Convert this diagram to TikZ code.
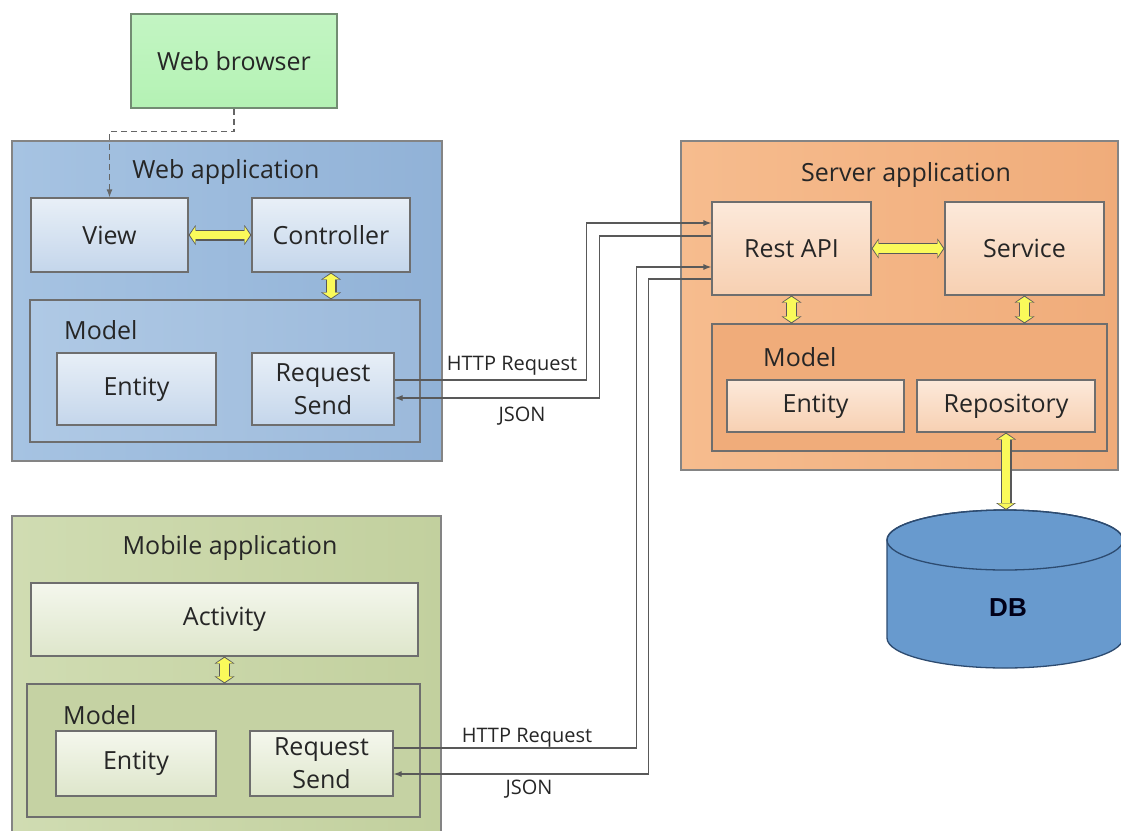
\documentclass[tikz,border=0pt]{standalone}
\usepackage{fontspec}
\setmainfont{Open Sans}
\newfontfamily\dbfont{Liberation Sans}
\usepackage{tikz}
\usetikzlibrary{positioning,calc,arrows.meta,shapes.geometric}

\definecolor{browserfill}{RGB}{180,242,180}
\definecolor{weboutA}{RGB}{166,195,226}
\definecolor{weboutB}{RGB}{145,178,215}
\definecolor{webinA}{RGB}{232,239,247}
\definecolor{webinB}{RGB}{196,214,235}
\definecolor{srvoutA}{RGB}{246,188,142}
\definecolor{srvoutB}{RGB}{240,172,122}
\definecolor{srvinA}{RGB}{252,233,218}
\definecolor{srvinB}{RGB}{247,208,178}
\definecolor{mobA}{RGB}{208,220,178}
\definecolor{mobB}{RGB}{194,208,158}
\definecolor{mobinA}{RGB}{244,247,237}
\definecolor{mobinB}{RGB}{222,230,203}
\definecolor{dbfill}{RGB}{104,154,206}
\definecolor{dbline}{RGB}{45,75,112}
\definecolor{arrowyellow}{RGB}{250,250,90}
\definecolor{edgegray}{RGB}{110,110,110}

\newcommand\boxfont{\fontsize{25}{33}\selectfont}
\newcommand\msgfont{\fontsize{20}{24}\selectfont}

\begin{document}
\begin{tikzpicture}[x=1pt, y=-1pt,
    every node/.style={text=black!85},
    outerbox/.style={draw=edgegray!85, line width=1.2pt, inner sep=0pt},
    innerbox/.style={draw=edgegray, line width=1.2pt, inner sep=0pt, align=center, font=\boxfont},
    title/.style={font=\boxfont, inner sep=0pt},
    browser/.style={innerbox, top color=browserfill!80!white, bottom color=browserfill,
        draw=gray!90!green},
    webout/.style={outerbox, left color=weboutA, right color=weboutB},
    webin/.style={innerbox, top color=webinA, bottom color=webinB},
    webmodel/.style={innerbox, left color=weboutA!90!white, right color=weboutB!90!white},
    srvout/.style={outerbox, left color=srvoutA, right color=srvoutB},
    srvin/.style={innerbox, top color=srvinA, bottom color=srvinB},
    srvmodel/.style={innerbox, fill=srvoutB},
    mobout/.style={outerbox, left color=mobA, right color=mobB},
    mobin/.style={innerbox, top color=mobinA, bottom color=mobinB},
    mobmodel/.style={innerbox, fill=mobB!95!white},
    yarr/.style={line width=11pt, draw=gray!70!black,
        {Triangle[length=7pt,width=20pt,line width=0pt]}-{Triangle[length=7pt,width=20pt,line width=0pt]},
        postaction={draw=arrowyellow, line width=8.6pt,
          arrows={Triangle[length=5.5pt,width=16.5pt,line width=0pt]-Triangle[length=5.5pt,width=16.5pt,line width=0pt]},
          shorten <=1.2pt, shorten >=1.2pt}},
    msg/.style={draw=black!65, line width=1.2pt, -{Latex[length=8pt,width=6pt]}},
    hint/.style={draw=black!60, line width=1.2pt, dash pattern=on 6pt off 4pt,
        -{Latex[length=8pt,width=6pt]}},
    msglabel/.style={font=\msgfont, inner sep=0pt}
  ]
\useasboundingbox (0,0) rectangle (1121,830);

% browser
\node[browser, minimum width=206pt, minimum height=94pt] (browser) at (234,61) {Web browser};

% web application
\node[webout, minimum width=430pt, minimum height=320pt] (webapp) at (227,301) {};
\node[title] (webtitle) at (226,172) {Web application};
\node[webin, minimum width=157pt, minimum height=74pt] (view) at (109.5,235) {View};
\node[webin, minimum width=158pt, minimum height=74pt] (ctrl) at (331,235) {Controller};
\node[webmodel, minimum width=390pt, minimum height=142pt] (wmodel) at (225,371) {};
\node[title, anchor=west] (wmodeltitle) at (64,330) {Model};
\node[webin, minimum width=159pt, minimum height=72pt] (went) at (136.5,389) {Entity};
\node[webin, minimum width=142pt, minimum height=72pt] (wreq) at (323,389) {Request\\Send};

% server application
\node[srvout, minimum width=437pt, minimum height=329pt] (server) at (899.5,305.5) {};
\node[title] (srvtitle) at (906,175) {Server application};
\node[srvin, minimum width=159pt, minimum height=93pt] (rest) at (791.5,248.5) {Rest API};
\node[srvin, minimum width=159pt, minimum height=93pt] (serv) at (1024.5,248.5) {Service};
\node[srvmodel, minimum width=395pt, minimum height=127pt] (smodel) at (909.5,387.5) {};
\node[title, anchor=west] (smodeltitle) at (763,357) {Model};
\node[srvin, minimum width=177pt, minimum height=52pt] (sent) at (815.5,406) {Entity};
\node[srvin, minimum width=178pt, minimum height=52pt] (repo) at (1006,406) {Repository};

% database
\filldraw[fill=dbfill, draw=dbline, line width=1.3pt]
  (887,540) -- (887,638) arc[start angle=180, end angle=0, x radius=118, y radius=30]
  -- (1123,540) arc[start angle=0, end angle=-180, x radius=118, y radius=30] -- cycle;
\draw[draw=dbline, line width=1.3pt] (1005,540) ellipse [x radius=118, y radius=30];
\coordinate (dbtop) at (1005,510);
\node[font=\dbfont\bfseries\fontsize{26}{30}\selectfont, text=black!90!blue, inner sep=0pt]
  (db) at (1008,608) {DB};

% mobile application
\node[mobout, minimum width=429pt, minimum height=325pt] (mobile) at (226.5,678.5) {};
\node[title] (mobtitle) at (230,548) {Mobile application};
\node[mobin, minimum width=387pt, minimum height=73pt] (act) at (224.5,619.5) {Activity};
\node[mobmodel, minimum width=393pt, minimum height=133pt] (mmodel) at (223.5,750.5) {};
\node[title, anchor=west] (mmodeltitle) at (63,715) {Model};
\node[mobin, minimum width=160pt, minimum height=65pt] (ment) at (136,763.5) {Entity};
\node[mobin, minimum width=143pt, minimum height=65pt] (mreq) at (321.5,763.5) {Request\\Send};

% yellow links
\draw[yarr] (view) -- (ctrl);
\draw[yarr] (ctrl.south) -- (ctrl.south |- wmodel.north);
\draw[yarr] (rest) -- (serv);
\draw[yarr] (rest.south) -- (rest.south |- smodel.north);
\draw[yarr] (serv.south) -- (serv.south |- smodel.north);
\draw[yarr] (repo.south) -- (repo.south |- dbtop);
\draw[yarr] (act.south) -- (act.south |- mmodel.north);

% browser to view
\draw[hint] (browser.south) -- ++(0,23) -| (view.north);

% requests and replies
\draw[msg] ([yshift=9pt]wreq.east) -- ++(192,0) |- ([yshift=25.5pt]rest.west);
\draw[msg] ([yshift=12.5pt]rest.west) -- ++(-112,0) |- ([yshift=-9pt]wreq.east);
\draw[msg] ([yshift=15.5pt]mreq.east) -- ++(243,0) |- ([yshift=-18.5pt]rest.west);
\draw[msg] ([yshift=-30.5pt]rest.west) -- ++(-63,0) |- ([yshift=-10.5pt]mreq.east);
\node[msglabel] (wreqlbl) at (512,366) {HTTP Request};
\node[msglabel] (wjsonlbl) at (522,416) {JSON};
\node[msglabel] (mreqlbl) at (527,738) {HTTP Request};
\node[msglabel] (mjsonlbl) at (529,789) {JSON};
\end{tikzpicture}
\end{document}
